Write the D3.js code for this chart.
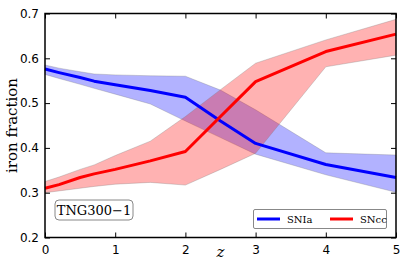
<!DOCTYPE html>
<html>
<head>
<meta charset="utf-8">
<script src="https://cdn.jsdelivr.net/npm/d3@7"></script>
<style>
  body { margin: 0; background: #fff; }
  svg { display: block; }
  .serif { font-family: "DejaVu Serif", "Liberation Serif", serif; }
  .tick text { font-family: "DejaVu Sans", sans-serif; }
</style>
</head>
<body>
<svg width="407" height="271"></svg>
<script>
// DATA
const redshift = [0, 0.2, 0.5, 0.7, 1, 1.5, 2, 2.5, 3, 4, 5];
const sniaMid = [0.576, 0.568, 0.557, 0.549, 0.541, 0.528, 0.513, 0.460, 0.410, 0.363, 0.334];
const sniaHigh = [0.585, 0.578, 0.570, 0.565, 0.563, 0.561, 0.560, 0.529, 0.485, 0.389, 0.384];
const sniaLow = [0.564, 0.555, 0.542, 0.533, 0.520, 0.498, 0.460, 0.423, 0.386, 0.340, 0.301];
const snccMid = [0.310, 0.318, 0.334, 0.342, 0.352, 0.371, 0.392, 0.470, 0.548, 0.615, 0.654];
const snccHigh = [0.325, 0.335, 0.352, 0.362, 0.383, 0.415, 0.470, 0.530, 0.589, 0.641, 0.687];
const snccLow = [0.300, 0.304, 0.310, 0.314, 0.319, 0.323, 0.317, 0.352, 0.388, 0.581, 0.607];
const xTicks = [0, 1, 2, 3, 4, 5];
const yTicks = [0.2, 0.3, 0.4, 0.5, 0.6, 0.7];

const series = [
  { name: "SNIa", color: "#0000ff", fill: "rgba(0,0,255,0.3)", mid: sniaMid, lo: sniaLow, hi: sniaHigh },
  { name: "SNcc", color: "#ff0000", fill: "rgba(255,0,0,0.3)", mid: snccMid, lo: snccLow, hi: snccHigh }
];

const svg = d3.select("svg");
const margin = { top: 13.5, left: 45, right: 11, bottom: 33.5 };
const width = +svg.attr("width");
const height = +svg.attr("height");

// SCALES
const xScale = d3.scaleLinear().domain([0, 5]).range([margin.left, width - margin.right]);
const yScale = d3.scaleLinear().domain([0.2, 0.7]).range([height - margin.bottom, margin.top]);

const area = (lo, hi) => d3.area()
  .x((d, i) => xScale(redshift[i]))
  .y0((d, i) => yScale(lo[i]))
  .y1((d, i) => yScale(hi[i]));
const line = d3.line().x((d, i) => xScale(redshift[i])).y(d => yScale(d));

// bands first, then lines
series.forEach(s => {
  svg.append("path")
    .datum(s.mid)
    .attr("d", area(s.lo, s.hi))
    .attr("fill", s.fill)
    .attr("stroke", "rgba(120,120,120,0.5)")
    .attr("stroke-width", 0.6);
});
series.forEach(s => {
  svg.append("path")
    .datum(s.mid)
    .attr("d", line)
    .attr("fill", "none")
    .attr("stroke", s.color)
    .attr("stroke-width", 3)
    .attr("stroke-linejoin", "round");
});

// axes, ticks inward on all four sides
const axBottom = svg.append("g").attr("transform", `translate(0,${height - margin.bottom})`)
  .call(d3.axisBottom(xScale).tickValues(xTicks).tickSizeInner(-5).tickSizeOuter(0).tickPadding(8).tickFormat(d3.format("d")));
const axTop = svg.append("g").attr("transform", `translate(0,${margin.top})`)
  .call(d3.axisTop(xScale).tickValues(xTicks).tickSizeInner(-5).tickSizeOuter(0).tickFormat(""));
const axLeft = svg.append("g").attr("transform", `translate(${margin.left},0)`)
  .call(d3.axisLeft(yScale).tickValues(yTicks).tickSizeInner(-5).tickSizeOuter(0).tickPadding(6).tickFormat(d3.format(".1f")));
const axRight = svg.append("g").attr("transform", `translate(${width - margin.right},0)`)
  .call(d3.axisRight(yScale).tickValues(yTicks).tickSizeInner(-5).tickSizeOuter(0).tickFormat(""));

[axBottom, axTop, axLeft, axRight].forEach(g => {
  g.select(".domain").remove();
  g.selectAll("line").attr("stroke", "#000").attr("stroke-width", 1);
  g.selectAll("text").attr("font-family", null).attr("font-size", 12).attr("fill", "#000");
});
axBottom.selectAll("text").attr("dy", "0.71em");

// frame
svg.append("rect")
  .attr("x", margin.left).attr("y", margin.top)
  .attr("width", width - margin.left - margin.right)
  .attr("height", height - margin.top - margin.bottom)
  .attr("fill", "none").attr("stroke", "#000").attr("stroke-width", 1.5);

// labels
svg.append("text")
  .attr("class", "serif")
  .attr("transform", `translate(17,${(margin.top + height - margin.bottom) / 2}) rotate(-90)`)
  .attr("text-anchor", "middle")
  .attr("font-size", 15)
  .text("iron fraction");
svg.append("text")
  .attr("class", "serif")
  .attr("x", xScale(2.5)).attr("y", 257)
  .attr("text-anchor", "middle")
  .attr("font-style", "italic").attr("font-size", 15)
  .text("z");

// simulation tag
svg.append("rect")
  .attr("x", 55).attr("y", 200).attr("width", 78).attr("height", 20).attr("rx", 4)
  .attr("fill", "#fff").attr("stroke", "#888").attr("stroke-width", 1);
svg.append("text")
  .attr("class", "serif")
  .attr("x", 94).attr("y", 215)
  .attr("text-anchor", "middle")
  .attr("font-size", 13)
  .text("TNG300\u22121");

// legend
const legend = svg.append("g");
legend.append("rect")
  .attr("x", 253.5).attr("y", 209.5).attr("width", 133).attr("height", 19).attr("rx", 1.5)
  .attr("fill", "#fff").attr("stroke", "#888").attr("stroke-width", 1);
series.forEach((s, i) => {
  const x0 = 257 + i * 73;
  legend.append("line")
    .attr("x1", x0).attr("x2", x0 + 23).attr("y1", 219).attr("y2", 219)
    .attr("stroke", s.color).attr("stroke-width", 3);
  legend.append("text")
    .attr("class", "serif")
    .attr("x", x0 + 30).attr("y", 222.5)
    .attr("font-size", 10)
    .text(s.name);
});
</script>
</body>
</html>
